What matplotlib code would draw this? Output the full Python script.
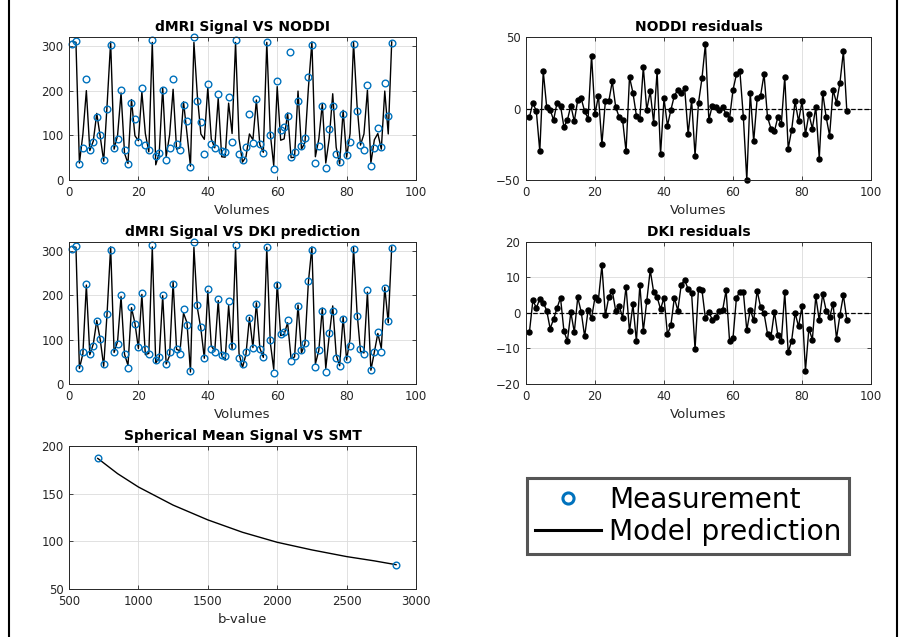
import numpy as np
import matplotlib.pyplot as plt
from matplotlib.lines import Line2D

# measured dMRI signal, volumes 1..93
signal = [304, 312, 36, 72, 226, 67, 86, 141, 101, 44,
          158, 301, 71, 91, 201, 67, 35, 173, 136, 84,
          206, 79, 68, 313, 53, 61, 201, 44, 71, 225,
          80, 67, 168, 133, 30, 320, 177, 129, 59, 214,
          80, 71, 192, 65, 62, 186, 86, 314, 59, 44,
          73, 148, 82, 181, 80, 61, 309, 100, 25, 222,
          113, 118, 144, 52, 62, 176, 76, 93, 231, 303,
          38, 76, 165, 27, 115, 165, 58, 41, 147, 56,
          86, 304, 154, 79, 68, 212, 32, 71, 117, 73,
          217, 143, 307]

# odd extra measurement point seen only in the NODDI panel
noddi_extra_vol = [63.6]
noddi_extra_sig = [287]

noddi_pred = [310, 308, 38, 102, 200, 66, 87, 149, 97, 42,
              171, 309, 69, 100, 195, 60, 37, 180, 99, 88,
              197, 104, 63, 308, 34, 60, 207, 52, 101, 203,
              69, 72, 175, 104, 31, 308, 187, 103, 91, 207,
              92, 72, 183, 52, 51, 172, 104, 308, 92, 40,
              52, 103, 90, 179, 79, 62, 308, 104, 32, 209,
              89, 92, 150, 50, 51, 199, 69, 84, 207, 309,
              52, 92, 171, 38, 93, 193, 73, 36, 156, 51,
              104, 308, 168, 78, 103, 201, 38, 90, 104, 69,
              199, 103, 309]

noddi_resid = [-6, 4, -2, -30, 26, 1, -1, -8, 4, 2,
               -13, -8, 2, -9, 6, 7, -2, -7, 37, -4,
               9, -25, 5, 5, 19, 1, -6, -8, -30, 22,
               11, -5, -7, 29, -1, 12, -10, 26, -32, 7,
               -12, -1, 9, 13, 11, 14, -18, 6, -33, 4,
               21, 45, -8, 2, 1, -1, 1, -4, -7, 13,
               24, 26, -6, -50, 11, -23, 7, 9, 24, -6,
               -14, -16, -6, -11, 22, -28, -15, 5, -9, 5,
               -18, -4, -14, 1, -35, 11, -6, -19, 13, 4,
               18, 40, -2]

dki_pred = [309, 308, 35, 68, 223, 66, 90, 143, 100, 40,
            163, 309, 71, 96, 197, 67, 42, 172, 137, 80,
            202, 66, 69, 309, 47, 60, 199, 45, 64, 230,
            78, 75, 160, 138, 27, 308, 171, 125, 58, 210,
            86, 74, 188, 64, 54, 177, 79, 308, 69, 37,
            67, 150, 82, 183, 81, 60, 308, 94, 33, 229,
            109, 112, 138, 57, 61, 178, 70, 91, 231, 309,
            45, 76, 171, 35, 109, 176, 66, 41, 151, 54,
            102, 308, 162, 74, 70, 207, 31, 72, 114, 80,
            218, 138, 309]

dki_resid = [-5.3, 3.6, 1.4, 4.0, 2.9, 0.7, -4.4, -1.7, 1.4, 4.3,
             -5.1, -7.9, 0.2, -5.4, 4.4, 0.3, -6.6, 0.8, -1.4, 4.4,
             3.8, 13.4, -0.7, 4.5, 6.3, 0.6, 2.1, -1.3, 7.4, -5.2,
             2.4, -8.0, 8.0, -5.1, 3.3, 12.1, 5.9, 4.5, 1.1, 4.3,
             -6.0, -3.4, 4.3, 0.7, 8.0, 9.3, 6.7, 5.6, -10.2, 6.9,
             6.5, -1.5, 0.3, -1.9, -1.2, 0.7, 0.8, 6.4, -7.8, -7.1,
             4.3, 6.0, 5.9, -4.9, 0.9, -2.1, 6.3, 1.6, -0.1, -5.8,
             -6.7, 0.4, -6.3, -8.0, 5.8, -11.1, -7.8, 0.0, -3.8, 2.0,
             -16.2, -4.4, -7.5, 4.7, -2.1, 5.3, 0.7, -1.2, 2.6, -7.2,
             -0.5, 5.0, -1.9]

# spherical mean
smt_b = [707, 2856]
smt_sig = [187, 75.5]
smt_curve_b = [707, 850, 1000, 1250, 1500, 1750, 2000, 2250, 2500, 2700, 2856]
smt_curve_s = [187, 171, 157, 138, 122.5, 109.5, 99, 91, 84, 79.5, 75.5]

volumes = np.arange(1, len(signal) + 1)

W, H = 902, 637
BLUE = '#0072BD'
DARK = '#262626'

fig = plt.figure(figsize=(W / 100, H / 100), dpi=100)
fig.patch.set_facecolor('white')


def px_axes(left, top, right, bottom):
    return fig.add_axes([left / W, 1 - bottom / H, (right - left) / W, (bottom - top) / H])


def matlab_style(ax):
    ax.tick_params(direction='in', top=True, right=True, length=3, width=0.6,
                   labelsize=8.5, colors=DARK)
    ax.tick_params(axis='x', pad=4)
    ax.tick_params(axis='y', pad=4)
    for s in ax.spines.values():
        s.set_color(DARK)
        s.set_linewidth(0.7)
    ax.grid(True, color='#dcdcdc', linewidth=0.6)
    ax.set_axisbelow(True)


def signal_panel(ax, pred, title):
    ax.plot(volumes, pred, color='k', linewidth=1.0)
    ax.plot(volumes, signal, 'o', color=BLUE, mfc='none', ms=4.8, mew=1.0, clip_on=False)
    ax.set_xlim(0, 100)
    ax.set_ylim(0, max(signal))
    ax.set_yticks([0, 100, 200, 300])
    ax.set_title(title, fontsize=10, fontweight='bold', pad=4)
    ax.set_xlabel('Volumes', fontsize=9.5, labelpad=4, color=DARK)
    matlab_style(ax)


def resid_panel(ax, resid, ylim, yticks, title):
    ax.axhline(0, color='k', linestyle='--', linewidth=0.9)
    ax.plot(volumes, resid, '-o', color='k', linewidth=1.0, ms=3.6, clip_on=False)
    ax.set_xlim(0, 100)
    ax.set_ylim(*ylim)
    ax.set_yticks(yticks)
    ax.set_title(title, fontsize=10, fontweight='bold', pad=4)
    ax.set_xlabel('Volumes', fontsize=9.5, labelpad=4, color=DARK)
    matlab_style(ax)


ax1 = px_axes(69, 37, 416, 180)
signal_panel(ax1, noddi_pred, 'dMRI Signal VS NODDI')
ax1.plot(noddi_extra_vol, noddi_extra_sig, 'o', color=BLUE, mfc='none', ms=4.8, mew=1.0)

ax2 = px_axes(526, 37, 871, 180)
resid_panel(ax2, noddi_resid, (-50, 50), [-50, 0, 50], 'NODDI residuals')

ax3 = px_axes(69, 242, 416, 384)
signal_panel(ax3, dki_pred, 'dMRI Signal VS DKI prediction')

ax4 = px_axes(526, 242, 871, 384)
resid_panel(ax4, dki_resid, (-20, 20), [-20, -10, 0, 10, 20], 'DKI residuals')

ax5 = px_axes(69, 446, 416, 589)
ax5.plot(smt_curve_b, smt_curve_s, color='k', linewidth=1.0)
ax5.plot(smt_b, smt_sig, 'o', color=BLUE, mfc='none', ms=4.8, mew=1.0, clip_on=False)
ax5.set_xlim(500, 3000)
ax5.set_ylim(50, 200)
ax5.set_xticks([500, 1000, 1500, 2000, 2500, 3000])
ax5.set_yticks([50, 100, 150, 200])
ax5.set_title('Spherical Mean Signal VS SMT', fontsize=10, fontweight='bold', pad=4)
ax5.set_xlabel('b-value', fontsize=9.5, labelpad=4, color=DARK)
matlab_style(ax5)

handles = [Line2D([], [], marker='o', linestyle='none', color=BLUE, mfc='none', ms=8, mew=2.2),
           Line2D([], [], color='k', linewidth=2.2)]
leg = fig.legend(handles, ['Measurement', 'Model prediction'],
                 loc='upper left', bbox_to_anchor=(527 / W, 1 - 478 / H),
                 fontsize=20.2, frameon=True, fancybox=False, handlelength=2.35,
                 handletextpad=0.3, borderpad=0.28, labelspacing=0.15, borderaxespad=0)
leg.get_frame().set_edgecolor('#2a2a2a')
leg.get_frame().set_linewidth(2.2)

# outer frame lines of the figure window
fig.add_artist(Line2D([9 / W, 9 / W], [0, 1], color='k', linewidth=1.5, transform=fig.transFigure))
fig.add_artist(Line2D([897 / W, 897 / W], [0, 1], color='k', linewidth=1.5, transform=fig.transFigure))

fig.savefig('out.png', dpi=100)
